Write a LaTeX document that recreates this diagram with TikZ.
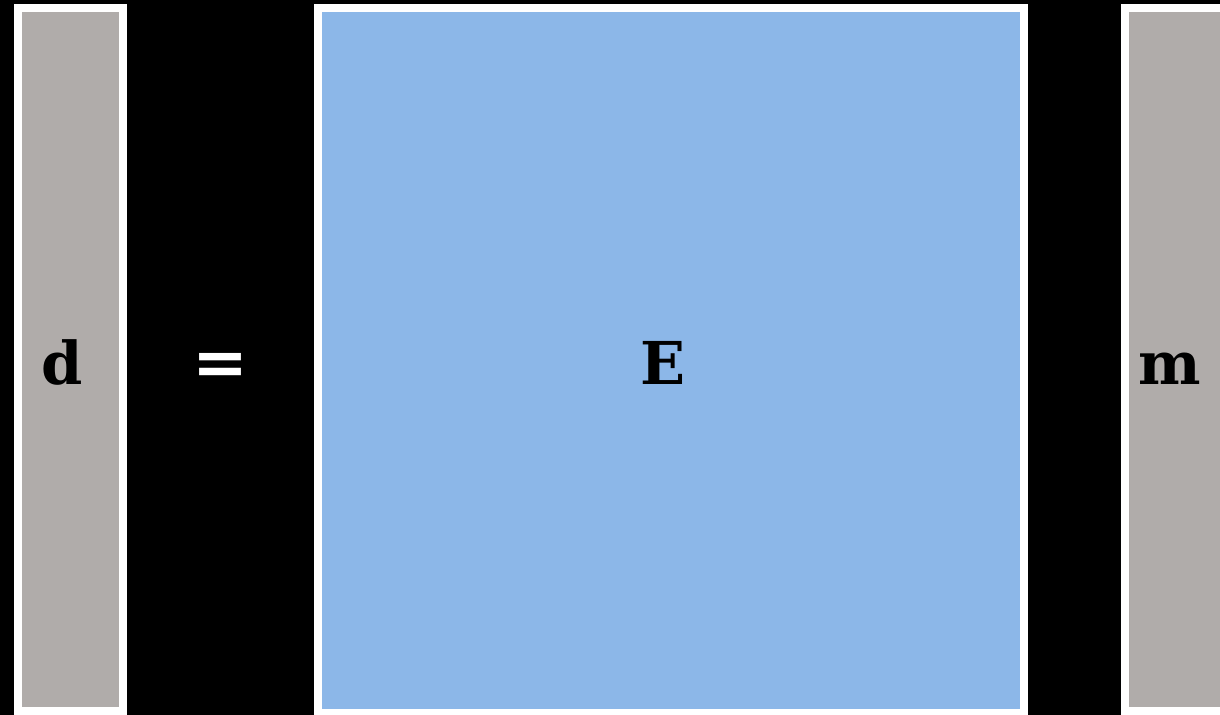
\documentclass[tikz,border=0pt]{standalone}
\usepackage{fontspec}
\setmainfont{DejaVu Serif}
\definecolor{vecgray}{HTML}{B0ACAA}
\definecolor{matblue}{HTML}{8CB7E8}
\usetikzlibrary{positioning}

\begin{document}
\begin{tikzpicture}[
  x=0.01cm, y=-0.01cm,
  block/.style={draw=white, line width=0.08cm, inner sep=0pt, minimum height=7.03cm},
  lbl/.style={anchor=base, font=\fontsize{16.8}{20}\selectfont\bfseries},
]
  \useasboundingbox (0,0) rectangle (1220,715);
  \fill[black] (0,0) rectangle (1220,715);
  \clip (0,0) rectangle (1220,715);
  \coordinate (base) at (0,384);

  % data vector
  \node[block, fill=vecgray, minimum width=1.05cm] (dvec) at (70.5,359.5) {};
  \node[lbl, xshift=-0.08cm] (dlbl) at (dvec |- base) {d};

  % equals sign
  \node[lbl, text=white, font=\fontsize{19}{22}\selectfont\bfseries] (eq) at (220,386) {=};

  % matrix E
  \node[block, fill=matblue, minimum width=7.06cm, minimum height=7.05cm] (emat) at (671,360.5) {};
  \node[lbl, xshift=-0.08cm] (elbl) at (emat |- base) {E};

  % model vector
  \node[block, fill=vecgray, minimum width=1.05cm] (mvec) at (1177.5,359.5) {};
  \node[lbl, xshift=-0.08cm] (mlbl) at (mvec |- base) {m};
\end{tikzpicture}
\end{document}
